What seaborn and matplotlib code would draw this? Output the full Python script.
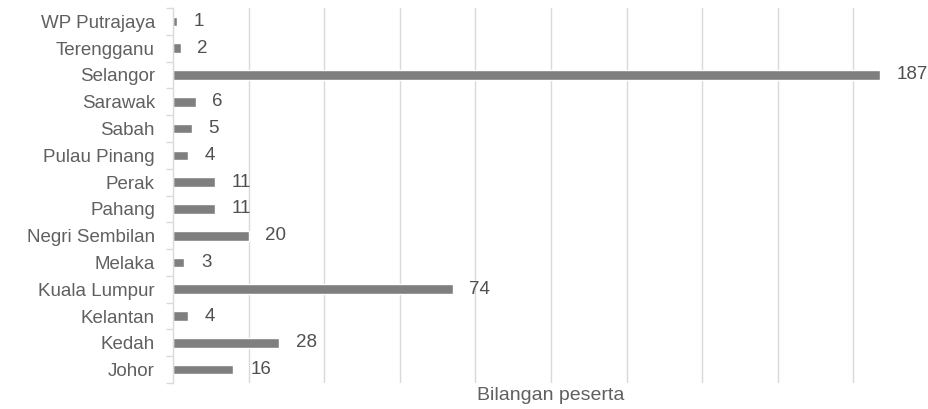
import matplotlib
matplotlib.use("Agg")
import matplotlib.pyplot as plt
import seaborn as sns
import pandas as pd
import numpy as np

states = ["WP Putrajaya", "Terengganu", "Selangor", "Sarawak", "Sabah", "Pulau Pinang",
          "Perak", "Pahang", "Negri Sembilan", "Melaka", "Kuala Lumpur", "Kelantan",
          "Kedah", "Johor"]
counts = [1, 2, 187, 6, 5, 4, 11, 11, 20, 3, 74, 4, 28, 16]
xlabel = "Bilangan peserta"

df = pd.DataFrame({"state": states, "count": counts})

sns.set_theme(style="white")
plt.rcParams['font.family'] = ['Liberation Sans', 'DejaVu Sans']

fig = plt.figure(figsize=(9.29, 4.09), dpi=100)
ax = fig.add_axes([173/929, 1 - 383/409, 1 - 173/929, (383 - 8)/409])

sns.barplot(data=df, x="count", y="state", orient="h", color="#7f7f7f",
            saturation=1, width=0.36, ax=ax, order=states)

ax.set_xlim(0, 200)
ax.set_xticks(np.arange(20, 201, 20))
ax.grid(axis="x", color="#d9d9d9", linewidth=1)
ax.set_axisbelow(True)
ax.tick_params(axis="x", length=0, labelbottom=False)
ax.tick_params(axis="y", which="major", length=0, labelsize=13.5, labelcolor="#606060", pad=13)
ax.set_yticks(np.arange(-0.5, len(states), 1), minor=True)
ax.tick_params(axis="y", which="minor", left=True, length=5, color="#d9d9d9", width=1)

for s in ["top", "right", "bottom"]:
    ax.spines[s].set_visible(False)
ax.spines["left"].set_color("#d9d9d9")
ax.spines["left"].set_linewidth(1)

ax.set_ylabel("")
ax.set_xlabel(xlabel, fontsize=14, color="#606060", labelpad=3)

for c in ax.containers:
    ax.bar_label(c, padding=12, fontsize=13.5, color="#505050")

fig.savefig("out.png", dpi=100)
